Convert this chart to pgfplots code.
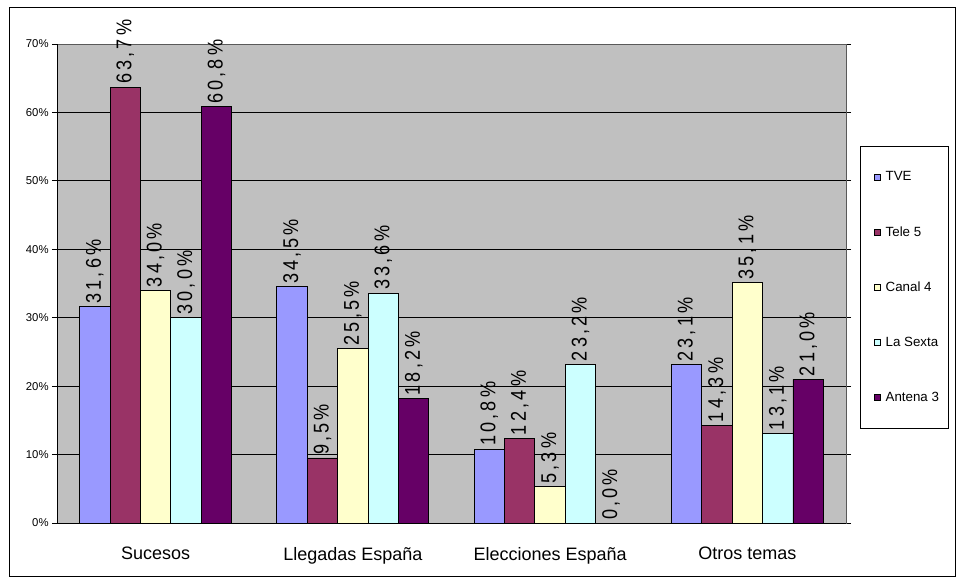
\documentclass[border=0pt]{standalone}
\usepackage{fontspec}
\setmainfont{Liberation Sans}
\newfontfamily\labfont{Liberation Sans}[LetterSpace=15, FakeStretch=0.85]
\usepackage{pgfplots}
\pgfplotsset{compat=1.18}
\definecolor{cTVE}{HTML}{9999FF}
\definecolor{cT5}{HTML}{993366}
\definecolor{cC4}{HTML}{FFFFCC}
\definecolor{cLS}{HTML}{CCFFFF}
\definecolor{cA3}{HTML}{660066}
\definecolor{bgc}{HTML}{C0C0C0}
\begin{document}
\begin{tikzpicture}
\useasboundingbox (0,0) rectangle (717pt,438.75pt);
\draw[black, line width=0.75pt] (6.75pt,6pt) rectangle (716.25pt,432.75pt);
\begin{axis}[
  at={(42.75pt,46.5pt)}, anchor=south west,
  scale only axis, width=591.75pt, height=359.25pt,
  clip=false,
  ybar=0pt, bar width=22.8pt,
  xmin=-0.5, xmax=3.5, ymin=0, ymax=70,
  axis background/.style={fill=bgc},
  axis line style={draw=gray!70!black, line width=0.6pt},
  ytick={0,10,...,70},
  yticklabel={\pgfmathprintnumber{\tick}\%},
  yticklabel style={font=\fontsize{8.5}{10}\selectfont, /pgf/number format/assume math mode=true, xshift=1pt},
  ymajorgrids, grid style={black, line width=0.6pt},
  ytick style={black, line width=0.6pt},
  major tick length=3.75pt, tick align=outside,
  xtick={0,1,2,3},
  xticklabels={Sucesos, Llegadas España, Elecciones España, Otros temas},
  xticklabel style={font=\fontsize{13.5}{16}\selectfont, yshift=-11pt},
  x tick style={draw=none},
  extra x ticks={-0.5,0.5,1.5,2.5,3.5},
  extra x tick labels={},
  extra x tick style={grid=none, major tick length=3.75pt, tick style={draw=black, line width=0.6pt}},
  nodes near coords={\labfont\pgfmathprintnumber{\pgfplotspointmeta}\%},
  nodes near coords style={font=\fontsize{16}{18}\selectfont, rotate=90, anchor=west, inner sep=2pt,
    /pgf/number format/.cd, fixed, fixed zerofill, precision=1, use comma, assume math mode=true},
  legend cell align=left,
  legend style={at={(1.0178,0.787)}, anchor=north west, draw=black, fill=white,
    font=\fontsize{10}{12}\selectfont, inner xsep=5pt, inner ysep=17pt, row sep=28.75pt},
  legend image code/.code={\path (0pt,0pt) (11.3pt,0pt); \draw[#1, draw=black, line width=0.6pt] (5.2pt,-2.3pt) rectangle (9.8pt,2.3pt);},
  every axis plot/.append style={draw=black, line width=0.7pt},
]
\addplot[fill=cTVE] coordinates {(0,31.6) (1,34.5) (2,10.8) (3,23.1)};
\addplot[fill=cT5] coordinates {(0,63.7) (1,9.5) (2,12.4) (3,14.3)};
\addplot[fill=cC4] coordinates {(0,34.0) (1,25.5) (2,5.3) (3,35.1)};
\addplot[fill=cLS] coordinates {(0,30.0) (1,33.6) (2,23.2) (3,13.1)};
\addplot[fill=cA3] coordinates {(0,60.8) (1,18.2) (2,0.0) (3,21.0)};
\legend{TVE, Tele 5, Canal 4, La Sexta, Antena 3}
\draw[black, line width=0.6pt] (axis cs:-0.5,0) -- (axis cs:-0.5,70);
\draw[black, line width=0.6pt] (axis cs:-0.5,0) -- (axis cs:3.5,0);
\end{axis}
\end{tikzpicture}
\end{document}
